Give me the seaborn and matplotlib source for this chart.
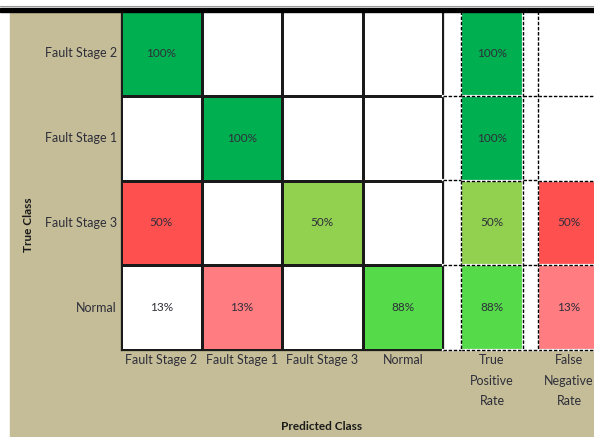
import numpy as np
import pandas as pd
import matplotlib
matplotlib.use("Agg")
import matplotlib.pyplot as plt
import seaborn as sns
from matplotlib.colors import ListedColormap
from matplotlib.patches import Rectangle
from matplotlib.lines import Line2D

plt.rcParams['font.family'] = ['Lato', 'DejaVu Sans']

# data
true_cls = ["Fault Stage 2", "Fault Stage 1", "Fault Stage 3", "Normal"]
pred_cls = ["Fault Stage 2", "Fault Stage 1", "Fault Stage 3", "Normal"]
conf_pct = [[100, None, None, None],
            [None, 100, None, None],
            [50, None, 50, None],
            [13, 13, None, 88]]
tpr_pct = [100, 100, 50, 88]
fnr_pct = [None, None, 50, 13]
tpr_label = "True\nPositive\nRate"
fnr_label = "False\nNegative\nRate"

# colour codes per cell (conditional formatting of the sheet)
palette = ["white", "#00B050", "#92D050", "#55DA4A", "#FF5050", "#FF7C80"]
conf_code = [[1, 0, 0, 0], [0, 1, 0, 0], [4, 0, 2, 0], [0, 5, 0, 3]]
tpr_code = [1, 1, 2, 3]
fnr_code = [0, 0, 4, 5]

cmap = ListedColormap(palette)
W, H = 594, 437
beige = "#C4BD97"
txt = "#2E2E3A"


def fx(px):
    return px / W


def fy(py):
    return 1 - py / H


def pct_text(v):
    return "" if v is None else f"{v}%"


fig = plt.figure(figsize=(W / 100, H / 100), dpi=100)
fig.patch.set_facecolor("white")
# beige frame, white area behind the rate columns, top bar
fig.add_artist(Rectangle((fx(10), 0), 1 - fx(10), fy(11), color=beige, zorder=-2))
fig.add_artist(Rectangle((fx(443), fy(350)), 1 - fx(443), fy(11) - fy(350), color="white", zorder=-1))

conf_df = pd.DataFrame(conf_code, index=true_cls, columns=pred_cls)
conf_annot = np.array([[pct_text(v) for v in r] for r in conf_pct])

ax = fig.add_axes([fx(121), fy(350), fx(443) - fx(121), fy(11) - fy(350)])
sns.heatmap(conf_df, ax=ax, cmap=cmap, vmin=-0.5, vmax=len(palette) - 0.5,
            annot=conf_annot, fmt="", cbar=False, linewidths=0.8, linecolor="#1a1a1a",
            annot_kws={"fontsize": 8.5, "color": txt})
ax.tick_params(length=0, labelsize=9, labelcolor=txt, pad=3)
ax.set_yticklabels(true_cls, rotation=0)
ax.set_xticklabels(pred_cls, rotation=0)
ax.set_xlabel("")
ax.set_ylabel("")
for s in ax.spines.values():
    s.set_visible(True)
    s.set_color("#1a1a1a")
    s.set_linewidth(0.9)

# dashed borders: black dashes over a white line
base = dict(color="white", lw=1.6, zorder=10, clip_on=False)
dash = dict(color="black", lw=1.0, linestyle=(0, (2.5, 1.2)), zorder=11, clip_on=False)


def rate_col(left, vals, codes, label):
    a = fig.add_axes([fx(left), fy(350), fx(62), fy(11) - fy(350)])
    df = pd.DataFrame({label: codes}, index=true_cls)
    ann = np.array([[pct_text(v)] for v in vals])
    sns.heatmap(df, ax=a, cmap=cmap, vmin=-0.5, vmax=len(palette) - 0.5,
                annot=ann, fmt="", cbar=False, linewidths=0,
                annot_kws={"fontsize": 8.5, "color": txt})
    a.set_yticks([])
    a.set_xticklabels([label], rotation=0, linespacing=1.85, va="top")
    a.tick_params(length=0, labelsize=9, labelcolor=txt, pad=3)
    a.set_xlabel("")
    a.set_ylabel("")
    for yb in range(1, len(vals) + 1):
        for st in (base, dash):
            a.axhline(yb, **st)
    return a


rate_col(461, tpr_pct, tpr_code, tpr_label)
rate_col(538, fnr_pct, fnr_code, fnr_label)

# dashed lines through the white gaps, and the column edges
gap_spans = [(443, 461), (523, 538)]
for yb in [96, 180, 265, 350]:
    for x0, x1 in gap_spans:
        for st in (base, dash):
            fig.add_artist(Line2D([fx(x0), fx(x1)], [fy(yb), fy(yb)], **st))
for xb in [461, 523, 538]:
    for st in (base, dash):
        fig.add_artist(Line2D([fx(xb), fx(xb)], [fy(11), fy(350)], **st))

# top bar
fig.add_artist(Rectangle((0, fy(11.5)), 1, fy(7.5) - fy(11.5), color="black", zorder=20))
fig.add_artist(Line2D([0, 1], [fy(6), fy(6)], color="#999999", lw=0.8, zorder=20))

fig.text(fx(28), fy(225), "True Class", rotation=90, ha="center", va="center",
         fontsize=8.5, fontweight="bold", color="#1a1a1a")
fig.text(fx(322), fy(426), "Predicted Class", ha="center", va="center",
         fontsize=8.5, fontweight="bold", color="#1a1a1a")

fig.savefig("out.png", dpi=100)
